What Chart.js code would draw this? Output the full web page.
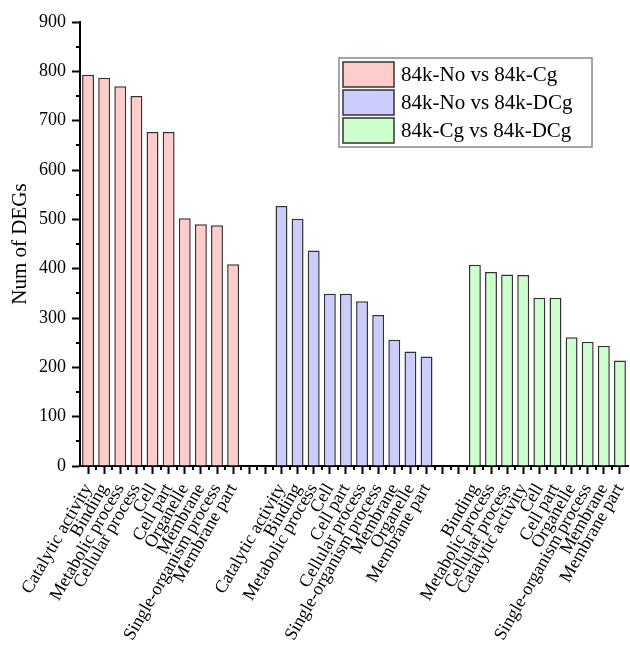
<!DOCTYPE html>
<html><head><meta charset="utf-8">
<script src="https://cdn.jsdelivr.net/npm/chart.js@4"></script>
<style>html,body{margin:0;padding:0;background:#fff}#c{display:block}</style>
</head><body>
<canvas id="c" width="630" height="647"></canvas>
<script>
const seriesNames = ['84k-No vs 84k-Cg', '84k-No vs 84k-DCg', '84k-Cg vs 84k-DCg'];
const seriesColors = ['#FFCCCC', '#CCCCFF', '#CCFFCC'];

const catsNoCg = ['Catalytic activity','Binding','Metabolic process','Cellular process','Cell','Cell part','Organelle','Membrane','Single-organism process','Membrane part'];
const valsNoCg = [793, 787, 770, 750, 677, 677, 502, 490, 488, 409];

const catsNoDCg = ['Catalytic activity','Binding','Metabolic process','Cell','Cell part','Cellular process','Single-organism process','Membrane','Organelle','Membrane part'];
const valsNoDCg = [527, 501, 437, 349, 349, 334, 306, 256, 232, 222];

const catsCgDCg = ['Binding','Metabolic process','Cellular process','Catalytic activity','Cell','Cell part','Organelle','Single-organism process','Membrane','Membrane part'];
const valsCgDCg = [408, 393, 388, 387, 341, 341, 261, 252, 244, 214];

const yTickValues = [0, 100, 200, 300, 400, 500, 600, 700, 800, 900];
const gapSlots = 2;

// build slot labels and per-series data (null outside own group)
const groups = [[catsNoCg, valsNoCg], [catsNoDCg, valsNoDCg], [catsCgDCg, valsCgDCg]];
const labels = [];
const seriesData = groups.map(() => []);
groups.forEach(([cats, vals], gi) => {
  if (gi > 0) {
    for (let k = 0; k < gapSlots; k++) { labels.push(''); seriesData.forEach(d => d.push(null)); }
  }
  cats.forEach((c, i) => {
    labels.push(c);
    seriesData.forEach((d, si) => d.push(si === gi ? vals[i] : null));
  });
});

Chart.defaults.font.family = "'Liberation Serif', 'Times New Roman', serif";
Chart.defaults.color = '#000';

const minorTicks = {
  id: 'minorTicks',
  afterDraw(chart) {
    const ctx = chart.ctx, y = chart.scales.y, x = chart.scales.x;
    const area = chart.chartArea;
    ctx.save();
    ctx.strokeStyle = '#000';
    ctx.lineWidth = 2;
    ctx.beginPath();
    for (let i = 0; i < yTickValues.length - 1; i++) {
      const v = (yTickValues[i] + yTickValues[i + 1]) / 2;
      const py = Math.round(y.getPixelForValue(v));
      ctx.moveTo(area.left - 4, py); ctx.lineTo(area.left, py);
    }
    const w = x.getPixelForValue(1) - x.getPixelForValue(0);
    for (let i = 1; i < labels.length; i++) {
      const px = Math.round(x.getPixelForValue(i) - w / 2);
      ctx.moveTo(px, area.bottom); ctx.lineTo(px, area.bottom + 4);
    }
    ctx.stroke();
    ctx.restore();
  }
};

const boxLegend = {
  id: 'boxLegend',
  afterDraw(chart) {
    const ctx = chart.ctx;
    const bx = 339, by = 58, bw = 253, bh = 89;
    ctx.save();
    ctx.fillStyle = '#fff';
    ctx.fillRect(bx, by, bw, bh);
    ctx.strokeStyle = '#888';
    ctx.lineWidth = 1.5;
    ctx.strokeRect(bx, by, bw, bh);
    ctx.font = "21px 'Liberation Serif'";
    ctx.textBaseline = 'middle';
    ctx.textAlign = 'left';
    chart.data.datasets.forEach((ds, i) => {
      const sy = 62 + i * 28;
      ctx.fillStyle = ds.backgroundColor;
      ctx.fillRect(343, sy, 51, 25);
      ctx.strokeStyle = '#333';
      ctx.lineWidth = 1.5;
      ctx.strokeRect(343, sy, 51, 25);
      ctx.fillStyle = '#000';
      ctx.fillText(ds.label, 401, sy + 13);
    });
    ctx.restore();
  }
};

new Chart(document.getElementById('c'), {
  type: 'bar',
  data: {
    labels: labels,
    datasets: seriesNames.map((n, i) => ({
      label: n,
      data: seriesData[i],
      backgroundColor: seriesColors[i],
      borderColor: '#333',
      borderWidth: 1.5,
      grouped: false,
      categoryPercentage: 1,
      barPercentage: 0.74
    }))
  },
  options: {
    responsive: false,
    animation: false,
    devicePixelRatio: 1,
    layout: { padding: { top: 22, right: 2, left: 0, bottom: 0 } },
    plugins: { legend: { display: false }, tooltip: { enabled: false } },
    scales: {
      x: {
        offset: true,
        grid: { offset: false, drawOnChartArea: false, drawTicks: true, tickLength: 8, tickColor: '#000', tickWidth: 2 },
        border: { display: true, color: '#000', width: 2 },
        ticks: { autoSkip: false, minRotation: 60, maxRotation: 60, padding: 6, font: { size: 18 } },
        afterFit(s) { s.height = 181; s.paddingLeft = 0; s.paddingRight = 0; }
      },
      y: {
        min: 0, max: 900,
        ticks: { stepSize: 100, padding: 6, font: { size: 18 } },
        grid: { drawOnChartArea: false, drawTicks: true, tickLength: 8, tickColor: '#000', tickWidth: 2 },
        border: { display: true, color: '#000', width: 2 },
        title: { display: true, text: 'Num of DEGs', font: { size: 21 }, padding: { top: 8, bottom: 0 } },
        afterFit(s) { s.width = 80; s.paddingTop = 0; s.paddingBottom = 0; }
      }
    }
  },
  plugins: [minorTicks, boxLegend]
});
</script>
</body></html>
